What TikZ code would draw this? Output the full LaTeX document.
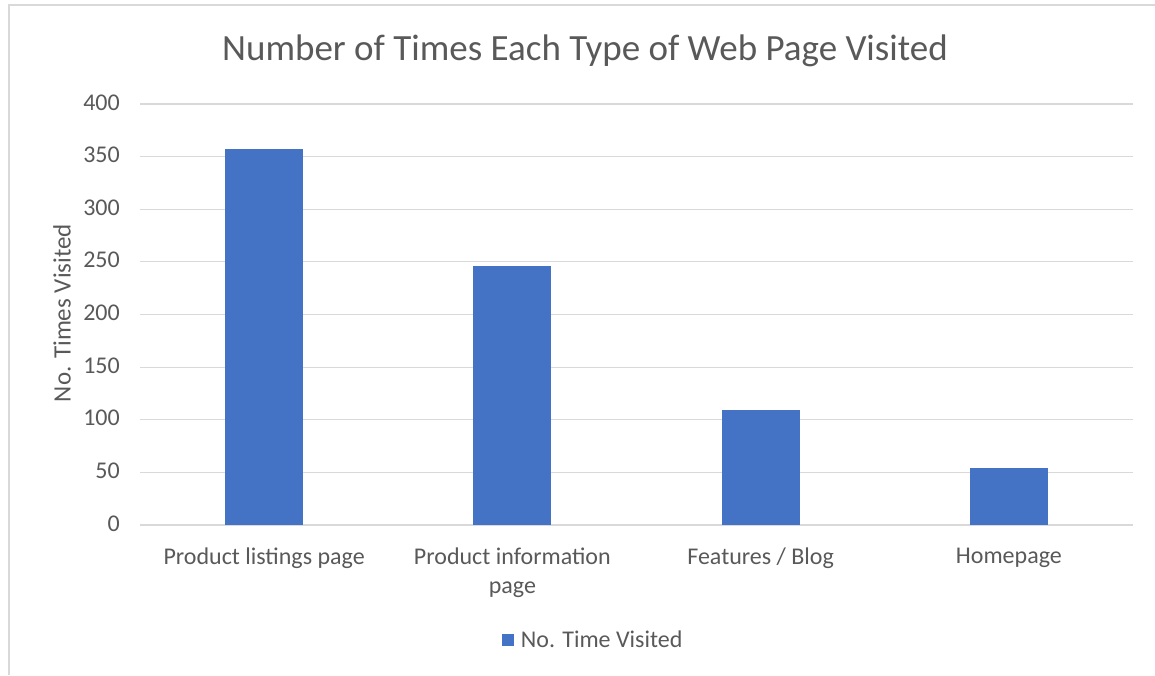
\documentclass[tikz,border=0pt]{standalone}
\usepackage{fontspec}
\setmainfont{Carlito}
\usetikzlibrary{positioning}

\definecolor{barblue}{HTML}{4472C4}
\definecolor{labelgrey}{HTML}{595959}
\definecolor{gridgrey}{HTML}{D9D9D9}

\begin{document}
\begin{tikzpicture}[x=1pt, y=-1pt, text=labelgrey,
    ticklabel/.style={anchor=base east, inner sep=0, font=\fontsize{24}{29}\selectfont},
    catlabel/.style={anchor=north, inner sep=0, align=center, font=\fontsize{24}{29}\selectfont}]
    \newcommand\plotleft{140}
\newcommand\plotright{1133}
\newcommand\zeroline{525}
\newcommand\unit{1.0525}
\newcommand\slot{248.25}
\newcommand\barwidth{78}

\useasboundingbox (0, 0) rectangle (1155, 675);

% chart frame
\draw[gridgrey, line width=1.5] (9, 675) -- (9, 5) -- (1155, 5);

\node[anchor=base, inner sep=0, font=\fontsize{37}{44}\selectfont] (title)
    at (585, 60) {Number of Times Each Type of Web Page Visited};

\foreach \tick in {0, 50, ..., 400} {
    \draw[gridgrey, line width=1.2] (\plotleft, \zeroline - \unit * \tick)
        -- (\plotright, \zeroline - \unit * \tick);
    \node[ticklabel] (tick-\tick) at (120, \zeroline - \unit * \tick + 6) {\tick};
}

\node[rotate=90, inner sep=0, font=\fontsize{25}{30}\selectfont] (ytitle)
    at (62, 313) {No. Times Visited};

\foreach \val [count=\i] in {357, 246, 109, 54} {
    \fill[barblue] (\plotleft + \slot * \i - \slot / 2 - \barwidth / 2, \zeroline)
        rectangle ++(\barwidth, -\unit * \val);
    \coordinate (bar-\i) at (\plotleft + \slot * \i - \slot / 2, 548);
}

\node[catlabel] (cat-1) at (bar-1) {Product listings page};
\node[catlabel] (cat-2) at (bar-2) {Product information\\page};
\node[catlabel] (cat-3) at (bar-3) {Features / Blog};
\node[catlabel] (cat-4) at (bar-4) {Homepage};

% legend
\node[fill=barblue, minimum size=12, inner sep=0] (legend-key) at (507.5, 639.5) {};
\node[right=7 of legend-key, inner sep=0, font=\fontsize{24}{29}\selectfont]
    (legend-text) {No. Time Visited};
\end{tikzpicture}
\end{document}
